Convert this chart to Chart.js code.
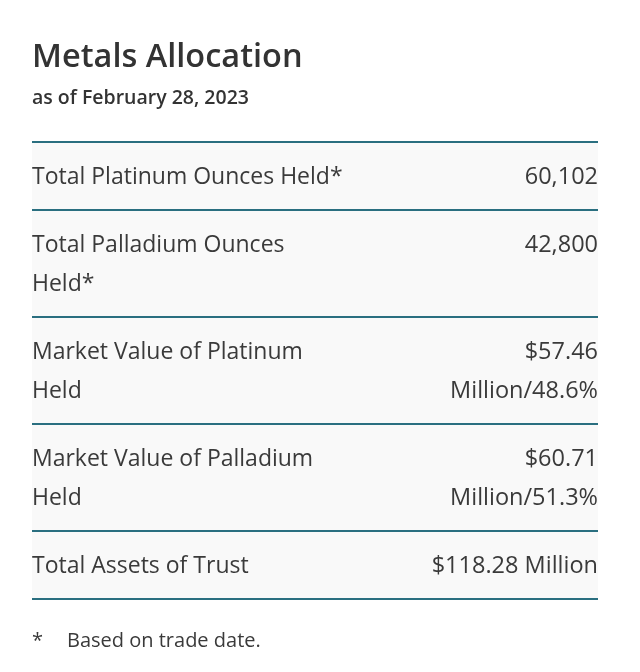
<!DOCTYPE html>
<html><head><meta charset="utf-8">
<script src="https://cdn.jsdelivr.net/npm/chart.js@4"></script>
<style>html,body{margin:0;padding:0;background:#fff}</style>
</head><body>
<canvas id="c" width="640" height="672"></canvas>
<script>
const title = "Metals Allocation";
const subtitle = "as of February 28, 2023";
const rowLabels = [["Total Platinum Ounces Held*"],["Total Palladium Ounces","Held*"],["Market Value of Platinum","Held"],["Market Value of Palladium","Held"],["Total Assets of Trust"]];
const rowValues = [["60,102"],["42,800"],["$57.46","Million/48.6%"],["$60.71","Million/51.3%"],["$118.28 Million"]];
const footnote = "Based on trade date.";

const tablePlugin = {
  id: 'table',
  afterDraw(chart) {
    const ctx = chart.ctx;
    ctx.save();
    const L = 32, R = 598, lh = 39;
    ctx.fillStyle = '#333';
    ctx.textBaseline = 'alphabetic';
    ctx.font = '600 32.5px "Open Sans"';
    ctx.fillText(title, L, 67);
    ctx.font = '600 19.5px "Open Sans"';
    ctx.fillText(subtitle, L, 104);
    let y = 142;
    const tops = [];
    rowLabels.forEach((lab, i) => {
      const n = Math.max(lab.length, rowValues[i].length);
      const h = n === 1 ? 68 : 107;
      tops.push(y);
      ctx.fillStyle = '#f9f9f9';
      ctx.fillRect(L, y, R - L, h);
      ctx.fillStyle = '#3a3a3a';
      ctx.font = '23px "Open Sans"';
      ctx.textBaseline = 'middle';
      ctx.textAlign = 'left';
      lab.forEach((t, k) => ctx.fillText(t, L, y + 35 + k * lh));
      ctx.textAlign = 'right';
      ctx.font = '23.5px "Open Sans"';
      rowValues[i].forEach((t, k) => ctx.fillText(t, R, y + 35 + k * lh));
      y += h;
    });
    ctx.strokeStyle = '#2a6f80';
    ctx.lineWidth = 2;
    tops.concat([y]).forEach(v => { ctx.beginPath(); ctx.moveTo(L, v); ctx.lineTo(R, v); ctx.stroke(); });
    ctx.textAlign = 'left';
    ctx.fillStyle = '#3a3a3a';
    ctx.font = '20px "Open Sans"';
    ctx.fillText('*', L, 641);
    ctx.fillText(footnote, 67, 641);
    ctx.restore();
  }
};

new Chart(document.getElementById('c'), {
  type: 'bar',
  data: { labels: [], datasets: [] },
  options: {
    responsive: false, animation: false,
    plugins: { legend: { display: false }, tooltip: { enabled: false } },
    scales: { x: { display: false }, y: { display: false } }
  },
  plugins: [tablePlugin]
});
</script>
</body></html>
